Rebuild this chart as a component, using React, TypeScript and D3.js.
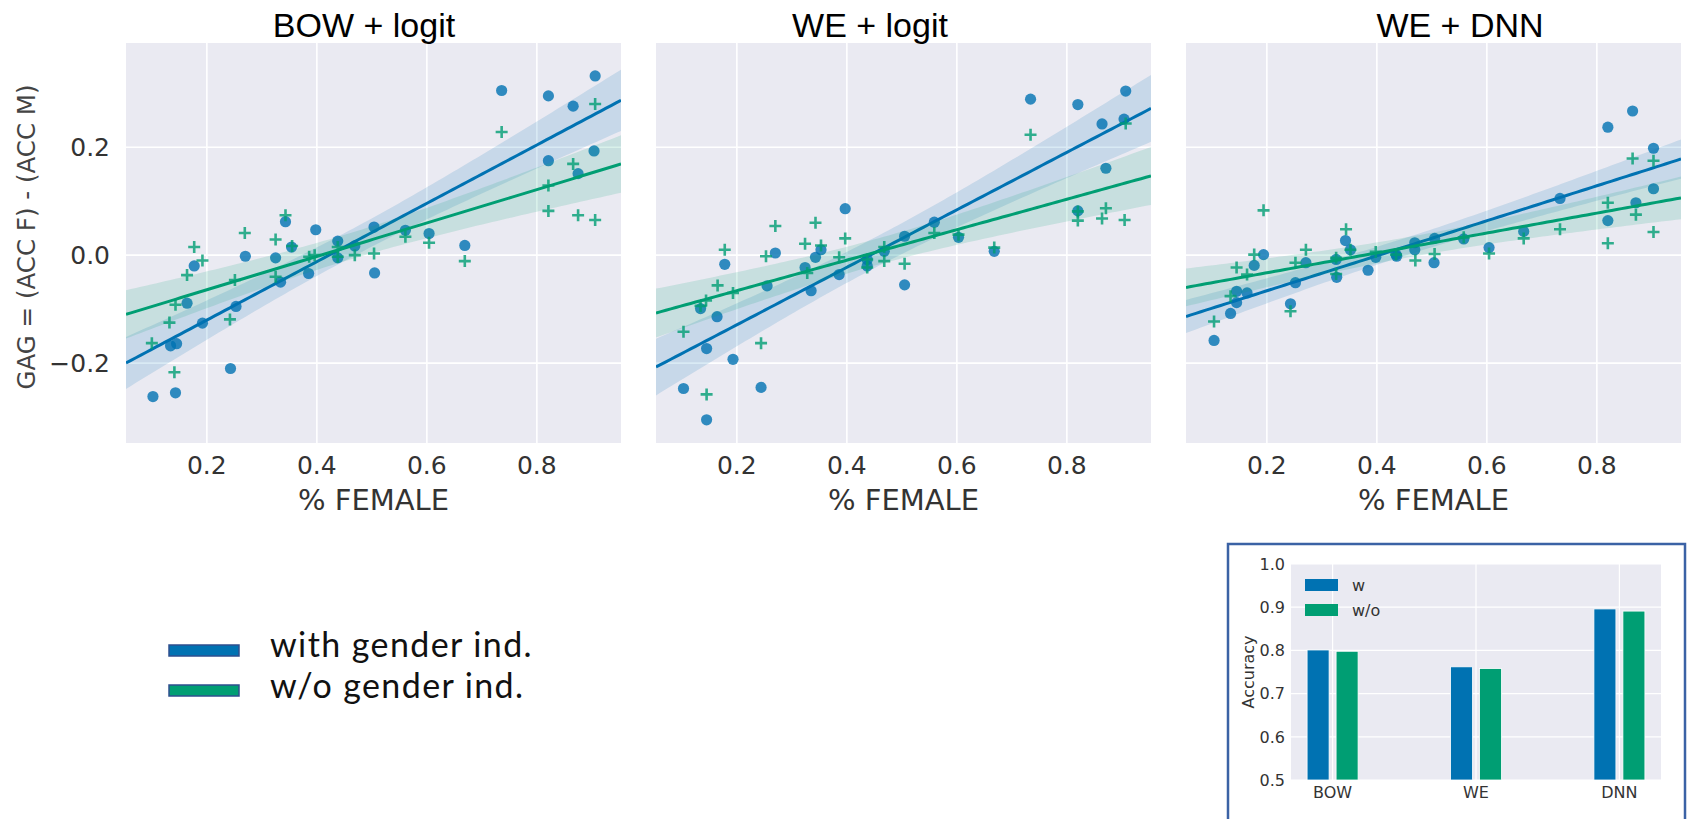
import React from "react";
import * as d3 from "d3";

// ---------- data ----------
const PANEL_TITLES = ["BOW + logit", "WE + logit", "WE + DNN"];
const X_TICKS = [0.2, 0.4, 0.6, 0.8];
const Y_TICKS = [-0.2, 0.0, 0.2];
const X_LABEL = "% FEMALE";
const Y_LABEL = "GAG = (ACC F) - (ACC M)";
const SERIES_LABELS = ["with gender ind.", "w/o gender ind."];

type Pt = [number, number];

const bowLogitWith: Pt[] = [
  [0.102, -0.262], [0.143, -0.255], [0.134, -0.168], [0.145, -0.164], [0.164, -0.089],
  [0.177, -0.02], [0.192, -0.126], [0.243, -0.21], [0.253, -0.095], [0.27, -0.002],
  [0.325, -0.005], [0.334, -0.05], [0.343, 0.062], [0.354, 0.015], [0.385, -0.034],
  [0.398, 0.047], [0.438, 0.026], [0.438, -0.005], [0.469, 0.017], [0.504, 0.052],
  [0.505, -0.033], [0.561, 0.046], [0.604, 0.04], [0.669, 0.018], [0.736, 0.305],
  [0.821, 0.295], [0.821, 0.175], [0.866, 0.276], [0.875, 0.151], [0.906, 0.332],
  [0.904, 0.193],
];
const bowLogitWithout: Pt[] = [
  [0.1, -0.163], [0.132, -0.125], [0.143, -0.092], [0.141, -0.217], [0.164, -0.037],
  [0.177, 0.015], [0.192, -0.01], [0.242, -0.119], [0.251, -0.046], [0.269, 0.041],
  [0.325, 0.029], [0.325, -0.04], [0.343, 0.074], [0.355, 0.017], [0.386, -0.003],
  [0.396, 0.0], [0.438, 0.015], [0.438, -0.003], [0.469, 0.0], [0.504, 0.003],
  [0.561, 0.034], [0.604, 0.023], [0.669, -0.011], [0.736, 0.228], [0.821, 0.129],
  [0.821, 0.082], [0.866, 0.169], [0.875, 0.074], [0.906, 0.28], [0.906, 0.065],
];
const weLogitWith: Pt[] = [
  [0.103, -0.247], [0.145, -0.305], [0.145, -0.173], [0.134, -0.099], [0.164, -0.114],
  [0.178, -0.017], [0.193, -0.193], [0.244, -0.245], [0.255, -0.057], [0.27, 0.004],
  [0.324, -0.023], [0.335, -0.066], [0.343, -0.004], [0.353, 0.01], [0.386, -0.036],
  [0.397, 0.086], [0.437, -0.008], [0.437, -0.02], [0.468, 0.007], [0.505, 0.035],
  [0.505, -0.055], [0.559, 0.061], [0.603, 0.033], [0.668, 0.007], [0.734, 0.289],
  [0.82, 0.279], [0.82, 0.082], [0.864, 0.243], [0.871, 0.161], [0.907, 0.304],
  [0.904, 0.252],
];
const weLogitWithout: Pt[] = [
  [0.103, -0.142], [0.145, -0.258], [0.134, -0.094], [0.144, -0.084], [0.165, -0.056],
  [0.178, 0.01], [0.193, -0.07], [0.244, -0.163], [0.253, -0.002], [0.27, 0.054],
  [0.324, 0.021], [0.328, -0.033], [0.343, 0.06], [0.353, 0.018], [0.386, -0.004],
  [0.397, 0.031], [0.437, -0.023], [0.437, -0.008], [0.468, -0.011], [0.468, 0.015],
  [0.505, -0.016], [0.559, 0.041], [0.603, 0.038], [0.668, 0.014], [0.734, 0.223],
  [0.82, 0.064], [0.82, 0.081], [0.864, 0.068], [0.871, 0.087], [0.905, 0.065],
  [0.907, 0.244],
];
const weDnnWith: Pt[] = [
  [0.104, -0.158], [0.134, -0.108], [0.145, -0.088], [0.145, -0.067], [0.164, -0.07],
  [0.177, -0.019], [0.194, 0.001], [0.243, -0.09], [0.252, -0.051], [0.271, -0.014],
  [0.326, -0.008], [0.327, -0.041], [0.343, 0.027], [0.352, 0.01], [0.384, -0.028],
  [0.398, -0.004], [0.435, 0.001], [0.436, -0.002], [0.469, 0.023], [0.469, 0.01],
  [0.504, -0.014], [0.505, 0.031], [0.558, 0.03], [0.604, 0.014], [0.667, 0.044],
  [0.733, 0.105], [0.82, 0.237], [0.82, 0.064], [0.865, 0.267], [0.871, 0.097],
  [0.903, 0.198], [0.903, 0.123],
];
const weDnnWithout: Pt[] = [
  [0.104, -0.123], [0.134, -0.076], [0.145, -0.023], [0.164, -0.036], [0.177, 0.001],
  [0.194, 0.083], [0.243, -0.104], [0.252, -0.014], [0.271, 0.01], [0.326, -0.005],
  [0.326, -0.035], [0.344, 0.048], [0.352, 0.01], [0.398, 0.006], [0.435, 0.001],
  [0.47, -0.01], [0.505, 0.002], [0.558, 0.033], [0.604, 0.003], [0.667, 0.031],
  [0.733, 0.048], [0.82, 0.097], [0.82, 0.022], [0.865, 0.179], [0.871, 0.075],
  [0.903, 0.175], [0.903, 0.043],
];

const ACC_CATEGORIES = ["BOW", "WE", "DNN"];
const ACC_WITH = [0.801, 0.762, 0.896];
const ACC_WITHOUT = [0.798, 0.758, 0.891];
const ACC_TICKS = [0.5, 0.6, 0.7, 0.8, 0.9, 1.0];
const ACC_LEGEND = ["w", "w/o"];
const ACC_Y_LABEL = "Accuracy";

// ---------- style / layout ----------
const BLUE = "#0072B2";
const GREEN = "#009E73";
const BG = "#EAEAF2";
const TICK_COLOR = "#333333";
const MPL_FONT = "'DejaVu Sans', sans-serif";
const TITLE_FONT = "'Liberation Sans', Arial, sans-serif";
const LEGEND_FONT = "Lato, 'Open Sans', sans-serif";

const W = 1687;
const H = 819;
const PLOT_TOP = 43;
const PLOT_BOTTOM = 443;
const PLOT_W = 495;
const PANEL_LEFTS = [126, 656, 1186];
const TITLE_CENTERS = [364, 870, 1460];
const X_DOMAIN: [number, number] = [0.053, 0.953];
const Y_DOMAIN: [number, number] = [-0.348, 0.393];
const T_CRIT = 2.045;

function fit(points: Pt[]) {
  const n = points.length;
  const xbar = d3.mean(points, (p) => p[0]) as number;
  const ybar = d3.mean(points, (p) => p[1]) as number;
  const sxx = d3.sum(points, (p) => (p[0] - xbar) ** 2);
  const sxy = d3.sum(points, (p) => (p[0] - xbar) * (p[1] - ybar));
  const b = sxy / sxx;
  const a = ybar - b * xbar;
  const sse = d3.sum(points, (p) => (p[1] - a - b * p[0]) ** 2);
  const s = Math.sqrt(sse / (n - 2));
  return {
    predict: (x: number) => a + b * x,
    ci: (x: number) => T_CRIT * s * Math.sqrt(1 / n + (x - xbar) ** 2 / sxx),
  };
}

const fmt = (v: number) => (v < 0 ? "\u2212" : "") + Math.abs(v).toFixed(1);

function Panel({ idx, withPts, withoutPts }: { idx: number; withPts: Pt[]; withoutPts: Pt[] }) {
  const left = PANEL_LEFTS[idx];
  const x = d3.scaleLinear().domain(X_DOMAIN).range([left, left + PLOT_W]);
  const y = d3.scaleLinear().domain(Y_DOMAIN).range([PLOT_BOTTOM, PLOT_TOP]);
  const clipId = `clip-${idx}`;
  const xs = d3.range(0, 101).map((i) => X_DOMAIN[0] + ((X_DOMAIN[1] - X_DOMAIN[0]) * i) / 100);

  const series = [
    { pts: withPts, color: BLUE, marker: "circle" },
    { pts: withoutPts, color: GREEN, marker: "plus" },
  ];

  return (
    <g>
      <defs>
        <clipPath id={clipId}>
          <rect x={left} y={PLOT_TOP} width={PLOT_W} height={PLOT_BOTTOM - PLOT_TOP} />
        </clipPath>
      </defs>
      <rect x={left} y={PLOT_TOP} width={PLOT_W} height={PLOT_BOTTOM - PLOT_TOP} fill={BG} />
      {X_TICKS.map((t) => (
        <line key={"gx" + t} x1={x(t)} x2={x(t)} y1={PLOT_TOP} y2={PLOT_BOTTOM} stroke="#fff" strokeWidth={1.6} />
      ))}
      {Y_TICKS.map((t) => (
        <line key={"gy" + t} x1={left} x2={left + PLOT_W} y1={y(t)} y2={y(t)} stroke="#fff" strokeWidth={1.6} />
      ))}
      <g clipPath={`url(#${clipId})`}>
        {series.map((s, si) => {
          const f = fit(s.pts);
          const area = d3
            .area<number>()
            .x((v) => x(v))
            .y0((v) => y(f.predict(v) - f.ci(v)))
            .y1((v) => y(f.predict(v) + f.ci(v)));
          const line = d3
            .line<number>()
            .x((v) => x(v))
            .y((v) => y(f.predict(v)));
          return (
            <g key={si}>
              {s.pts.map((p, i) =>
                s.marker === "circle" ? (
                  <circle key={i} cx={x(p[0])} cy={y(p[1])} r={5.6} fill={s.color} fillOpacity={0.8} />
                ) : (
                  <path
                    key={i}
                    d={`M${x(p[0]) - 6},${y(p[1])}h12M${x(p[0])},${y(p[1]) - 6}v12`}
                    stroke={s.color}
                    strokeOpacity={0.8}
                    strokeWidth={2.6}
                    fill="none"
                  />
                )
              )}
              <path d={area(xs) || ""} fill={s.color} fillOpacity={0.15} />
              <path d={line(xs) || ""} stroke={s.color} strokeWidth={3} fill="none" />
            </g>
          );
        })}
      </g>
      {X_TICKS.map((t) => (
        <text key={"tx" + t} x={x(t)} y={474} textAnchor="middle" fontFamily={MPL_FONT} fontSize={25} fill={TICK_COLOR}>
          {fmt(t)}
        </text>
      ))}
      <text x={left + PLOT_W / 2} y={510} textAnchor="middle" fontFamily={MPL_FONT} fontSize={29} fill={TICK_COLOR}>
        {X_LABEL}
      </text>
      {idx === 0 &&
        Y_TICKS.map((t) => (
          <text key={"ty" + t} x={left - 16} y={y(t)} dy="0.36em" textAnchor="end" fontFamily={MPL_FONT} fontSize={25} fill={TICK_COLOR}>
            {fmt(t)}
          </text>
        ))}
      {idx === 0 && (
        <text
          transform={`translate(26,237) rotate(-90)`}
          textAnchor="middle"
          dy="0.36em"
          fontFamily={MPL_FONT}
          fontSize={24.5}
          fill="#444"
        >
          {Y_LABEL}
        </text>
      )}
      <text x={TITLE_CENTERS[idx]} y={37} textAnchor="middle" fontFamily={TITLE_FONT} fontSize={34} fill="#000">
        {PANEL_TITLES[idx]}
      </text>
    </g>
  );
}

function Inset() {
  const left = 1291, right = 1661, top = 564, bottom = 780;
  const xc = d3.scalePoint<string>().domain(ACC_CATEGORIES).range([left, right]).padding(0.29);
  const sub = d3.scaleBand<string>().domain(ACC_LEGEND).range([-25.5, 25.5]).paddingInner(0.241);
  const y = d3.scaleLinear().domain([0.5, 1.0]).range([bottom, top]);
  const vals = [ACC_WITH, ACC_WITHOUT];
  const colors = [BLUE, GREEN];
  return (
    <g>
      <rect x={1228} y={544} width={457} height={300} fill="#fff" stroke="#3B62A5" strokeWidth={2.5} />
      <rect x={left} y={top} width={right - left} height={bottom - top} fill={BG} />
      {ACC_TICKS.map((t) => (
        <line key={"g" + t} x1={left} x2={right} y1={y(t)} y2={y(t)} stroke="#fff" strokeWidth={1.2} />
      ))}
      {ACC_CATEGORIES.map((c) => (
        <line key={"v" + c} x1={xc(c)} x2={xc(c)} y1={top} y2={bottom} stroke="#fff" strokeWidth={1.2} />
      ))}
      {vals.map((vs, si) =>
        vs.map((v, i) => {
          const cx = xc(ACC_CATEGORIES[i]) as number;
          const bx = cx + (sub(ACC_LEGEND[si]) as number);
          return (
            <rect
              key={si + "-" + i}
              x={bx}
              y={y(v)}
              width={sub.bandwidth()}
              height={y(0.5) - y(v)}
              fill={colors[si]}
              stroke="#fff"
              strokeWidth={0.8}
            />
          );
        })
      )}
      {ACC_TICKS.map((t) => (
        <text key={"t" + t} x={left - 6} y={y(t)} dy="0.36em" textAnchor="end" fontFamily={MPL_FONT} fontSize={16} fill={TICK_COLOR}>
          {t.toFixed(1)}
        </text>
      ))}
      {ACC_CATEGORIES.map((c) => (
        <text key={"c" + c} x={xc(c)} y={798} textAnchor="middle" fontFamily={MPL_FONT} fontSize={16} fill={TICK_COLOR}>
          {c}
        </text>
      ))}
      <text transform="translate(1248,672) rotate(-90)" textAnchor="middle" dy="0.36em" fontFamily={MPL_FONT} fontSize={16} fill={TICK_COLOR}>
        {ACC_Y_LABEL}
      </text>
      {ACC_LEGEND.map((l, i) => (
        <g key={l}>
          <rect x={1305} y={579 + i * 25} width={33} height={12} fill={colors[i]} />
          <text x={1352} y={591 + i * 25} fontFamily={MPL_FONT} fontSize={16} fill={TICK_COLOR}>
            {l}
          </text>
        </g>
      ))}
    </g>
  );
}

function Legend() {
  const colors = [BLUE, GREEN];
  return (
    <g>
      {SERIES_LABELS.map((l, i) => (
        <g key={l}>
          <rect x={169} y={645 + i * 40} width={70} height={11} fill={colors[i]} stroke="#2E4F8E" strokeWidth={1.5} />
          <text x={270} y={657 + i * 41} fontFamily={LEGEND_FONT} fontSize={34} letterSpacing={1.4} fill="#111">
            {l}
          </text>
        </g>
      ))}
    </g>
  );
}

export default function App() {
  const data: [Pt[], Pt[]][] = [
    [bowLogitWith, bowLogitWithout],
    [weLogitWith, weLogitWithout],
    [weDnnWith, weDnnWithout],
  ];
  return (
    <svg
      width={W}
      height={H}
      viewBox={`0 0 ${W} ${H}`}
      style={{ position: "absolute", left: 0, top: 0, background: "#fff" }}
    >
      <rect x={0} y={0} width={W} height={H} fill="#fff" />
      {data.map((d, i) => (
        <Panel key={i} idx={i} withPts={d[0]} withoutPts={d[1]} />
      ))}
      <Legend />
      <Inset />
    </svg>
  );
}
